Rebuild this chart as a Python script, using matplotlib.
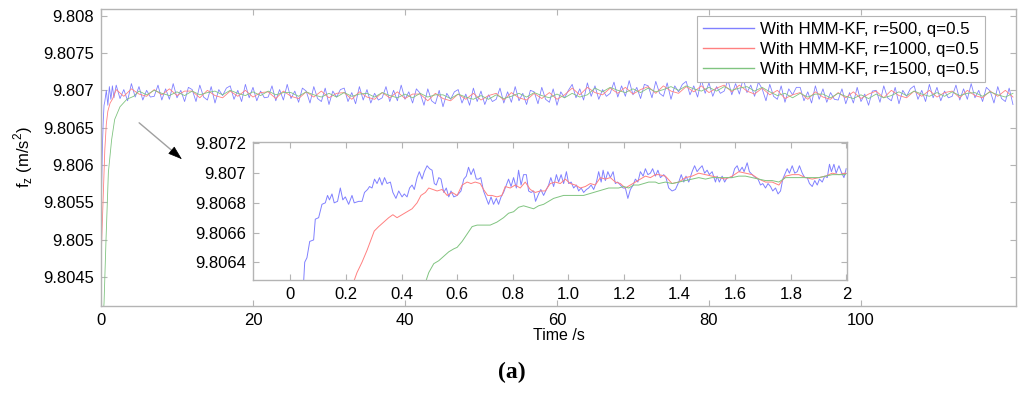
import numpy as np
import matplotlib
matplotlib.use("Agg")
import matplotlib.pyplot as plt

plt.rcParams['font.family'] = ['Liberation Sans', 'DejaVu Sans']

# ---------------- data: main plot ----------------
labels = ["With HMM-KF, r=500, q=0.5", "With HMM-KF, r=1000, q=0.5", "With HMM-KF, r=1500, q=0.5"]
colors = ["#8080ff", "#ff8080", "#80c480"]

# start-up transients (main axes)
blue_t0 = [0.0, 0.1, 0.2, 0.3, 0.4, 0.5, 0.7, 0.9, 1.1, 1.3, 1.5, 1.7]
blue_v0 = [9.8050, 9.8058, 9.8063, 9.8066, 9.80680, 9.80685, 9.80700, 9.80680, 9.80705, 9.80688, 9.80706, 9.80690]
red_t0 = [0.0, 0.3, 0.5, 0.7, 0.9, 1.2, 1.5]
red_v0 = [9.8047, 9.8056, 9.8062, 9.80655, 9.80672, 9.80683, 9.80688]
green_t0 = [0.3, 0.4, 0.66, 0.97, 1.4, 1.8, 2.5, 3.4, 4.3]
green_v0 = [9.8040, 9.80415, 9.8050, 9.8059, 9.80634, 9.80661, 9.80678, 9.80688, 9.80692]

# steady part: blue every 0.5 s from 2 s, red every 1 s from 2 s, green every 1 s from 5 s
blue_t = np.arange(2.0, 120.01, 0.5)
blue_v = [
 9.80707, 9.80689, 9.80701, 9.80686, 9.80709, 9.80691, 9.80705, 9.80687, 9.80700, 9.80691,
 9.80692, 9.80707, 9.80687, 9.80702, 9.80688, 9.80709, 9.80690, 9.80700, 9.80685, 9.80704,
 9.80701, 9.80685, 9.80707, 9.80691, 9.80687, 9.80705, 9.80683, 9.80701, 9.80693, 9.80703,
 9.80706, 9.80688, 9.80700, 9.80685, 9.80708, 9.80690, 9.80704, 9.80686, 9.80699, 9.80690,
 9.80691, 9.80706, 9.80686, 9.80701, 9.80687, 9.80708, 9.80689, 9.80699, 9.80684, 9.80703,
 9.80699, 9.80683, 9.80705, 9.80689, 9.80685, 9.80703, 9.80681, 9.80699, 9.80691, 9.80701,
 9.80703, 9.80685, 9.80697, 9.80682, 9.80705, 9.80687, 9.80701, 9.80683, 9.80696, 9.80687,
 9.80690, 9.80705, 9.80685, 9.80700, 9.80686, 9.80707, 9.80688, 9.80698, 9.80683, 9.80702,
 9.80696, 9.80680, 9.80702, 9.80686, 9.80682, 9.80700, 9.80678, 9.80696, 9.80688, 9.80698,
 9.80701, 9.80683, 9.80695, 9.80680, 9.80703, 9.80685, 9.80699, 9.80681, 9.80694, 9.80685,
 9.80688, 9.80703, 9.80683, 9.80698, 9.80684, 9.80705, 9.80686, 9.80696, 9.80681, 9.80700,
 9.80698, 9.80682, 9.80704, 9.80688, 9.80684, 9.80702, 9.80680, 9.80698, 9.80690, 9.80700,
 9.80708, 9.80690, 9.80702, 9.80687, 9.80710, 9.80692, 9.80706, 9.80688, 9.80701, 9.80692,
 9.80696, 9.80711, 9.80691, 9.80706, 9.80692, 9.80713, 9.80694, 9.80704, 9.80689, 9.80708,
 9.80706, 9.80690, 9.80712, 9.80696, 9.80692, 9.80710, 9.80688, 9.80706, 9.80698, 9.80708,
 9.80712, 9.80694, 9.80706, 9.80691, 9.80714, 9.80696, 9.80710, 9.80692, 9.80705, 9.80696,
 9.80699, 9.80714, 9.80694, 9.80709, 9.80695, 9.80716, 9.80697, 9.80707, 9.80692, 9.80711,
 9.80702, 9.80686, 9.80708, 9.80692, 9.80688, 9.80706, 9.80684, 9.80702, 9.80694, 9.80704,
 9.80704, 9.80686, 9.80698, 9.80683, 9.80706, 9.80688, 9.80702, 9.80684, 9.80697, 9.80688,
 9.80687, 9.80702, 9.80682, 9.80697, 9.80683, 9.80704, 9.80685, 9.80695, 9.80680, 9.80699,
 9.80700, 9.80684, 9.80706, 9.80690, 9.80686, 9.80704, 9.80682, 9.80700, 9.80692, 9.80702,
 9.80706, 9.80688, 9.80700, 9.80685, 9.80708, 9.80690, 9.80704, 9.80686, 9.80699, 9.80690,
 9.80692, 9.80707, 9.80687, 9.80702, 9.80688, 9.80709, 9.80690, 9.80700, 9.80685, 9.80704,
 9.80699, 9.80683, 9.80705, 9.80689, 9.80685, 9.80703, 9.80681]
red_t = np.arange(2.0, 120.01, 1.0)
red_v = [
 9.80701, 9.80692, 9.80702, 9.80695, 9.80692, 9.80701, 9.80694, 9.80702, 9.80693, 9.80699,
 9.80699, 9.80690, 9.80700, 9.80693, 9.80690, 9.80699, 9.80692, 9.80700, 9.80691, 9.80697,
 9.80698, 9.80689, 9.80699, 9.80692, 9.80689, 9.80698, 9.80691, 9.80699, 9.80690, 9.80696,
 9.80697, 9.80688, 9.80698, 9.80691, 9.80688, 9.80697, 9.80690, 9.80698, 9.80689, 9.80695,
 9.80695, 9.80686, 9.80696, 9.80689, 9.80686, 9.80695, 9.80688, 9.80696, 9.80687, 9.80693,
 9.80696, 9.80687, 9.80697, 9.80690, 9.80687, 9.80696, 9.80689, 9.80697, 9.80688, 9.80694,
 9.80703, 9.80694, 9.80704, 9.80697, 9.80694, 9.80703, 9.80696, 9.80704, 9.80695, 9.80701,
 9.80705, 9.80696, 9.80706, 9.80699, 9.80696, 9.80705, 9.80698, 9.80706, 9.80697, 9.80703,
 9.80707, 9.80698, 9.80707, 9.80699, 9.80695, 9.80703, 9.80694, 9.80700, 9.80689, 9.80694,
 9.80697, 9.80688, 9.80698, 9.80691, 9.80688, 9.80697, 9.80690, 9.80698, 9.80689, 9.80695,
 9.80699, 9.80690, 9.80700, 9.80693, 9.80690, 9.80699, 9.80692, 9.80700, 9.80691, 9.80697,
 9.80699, 9.80690, 9.80700, 9.80693, 9.80690, 9.80699, 9.80692, 9.80700, 9.80691]
green_t = np.arange(5.0, 120.01, 1.0)
green_v = [
 9.80699, 9.80694, 9.80700, 9.80696, 9.80693, 9.80698, 9.80693, 9.80699, 9.80694, 9.80697,
 9.80699, 9.80694, 9.80700, 9.80696, 9.80693, 9.80698, 9.80693, 9.80699, 9.80694, 9.80697,
 9.80697, 9.80692, 9.80698, 9.80694, 9.80691, 9.80696, 9.80691, 9.80697, 9.80692, 9.80695,
 9.80696, 9.80691, 9.80697, 9.80693, 9.80690, 9.80695, 9.80690, 9.80696, 9.80691, 9.80694,
 9.80694, 9.80689, 9.80695, 9.80691, 9.80688, 9.80693, 9.80688, 9.80694, 9.80689, 9.80692,
 9.80696, 9.80691, 9.80697, 9.80693, 9.80690, 9.80695, 9.80690, 9.80696, 9.80691, 9.80694,
 9.80703, 9.80698, 9.80704, 9.80700, 9.80697, 9.80702, 9.80697, 9.80703, 9.80698, 9.80701,
 9.80705, 9.80700, 9.80706, 9.80702, 9.80699, 9.80704, 9.80699, 9.80705, 9.80700, 9.80703,
 9.80705, 9.80699, 9.80704, 9.80698, 9.80693, 9.80696, 9.80690, 9.80696, 9.80691, 9.80695,
 9.80695, 9.80690, 9.80696, 9.80692, 9.80689, 9.80694, 9.80689, 9.80695, 9.80690, 9.80693,
 9.80698, 9.80693, 9.80699, 9.80695, 9.80692, 9.80697, 9.80692, 9.80698, 9.80693, 9.80696,
 9.80697, 9.80692, 9.80698, 9.80694, 9.80691, 9.80696]

# ---------------- data: inset (0-2 s) ----------------
ib_t = [0.046, 0.052, 0.060, 0.070, 0.084, 0.090, 0.102, 0.114, 0.126, 0.134, 0.141, 0.150, 0.158, 0.170,
        0.180, 0.189, 0.198, 0.210, 0.222, 0.230, 0.246, 0.258, 0.267, 0.278, 0.285, 0.294, 0.303, 0.312,
        0.321, 0.330, 0.339, 0.348, 0.360, 0.369, 0.380, 0.390, 0.402, 0.410, 0.420, 0.429, 0.438, 0.446,
        0.456, 0.464, 0.474, 0.482, 0.492, 0.501, 0.510, 0.518, 0.525, 0.534, 0.542, 0.552, 0.561, 0.570,
        0.578, 0.588, 0.600, 0.614, 0.624, 0.633, 0.641, 0.650, 0.659, 0.669, 0.677, 0.685, 0.695, 0.705,
        0.713, 0.722, 0.731, 0.741, 0.749, 0.758, 0.767, 0.777, 0.785, 0.794, 0.803, 0.813, 0.821, 0.830,
        0.839, 0.849, 0.857, 0.866, 0.875, 0.882, 0.893, 0.901, 0.911, 0.921, 0.929, 0.937, 0.947, 0.957,
        0.965, 0.974, 0.983, 0.993, 1.001, 1.010, 1.019, 1.029, 1.037, 1.046, 1.055, 1.065, 1.073, 1.082,
        1.091, 1.101, 1.109, 1.118, 1.125, 1.133, 1.142, 1.151, 1.161, 1.169, 1.177, 1.187, 1.197, 1.205,
        1.214, 1.223, 1.233, 1.241, 1.250, 1.259, 1.269, 1.277, 1.286, 1.295, 1.303, 1.313, 1.322, 1.331,
        1.343, 1.351, 1.361, 1.373, 1.385, 1.397, 1.406, 1.415, 1.423, 1.433, 1.445, 1.454, 1.463, 1.471,
        1.481, 1.490, 1.499, 1.507, 1.517, 1.529, 1.535, 1.543, 1.553, 1.562, 1.571, 1.579, 1.589, 1.598,
        1.607, 1.615, 1.625, 1.632, 1.643, 1.651, 1.661, 1.673, 1.682, 1.691, 1.699, 1.709, 1.718, 1.727,
        1.735, 1.745, 1.754, 1.763, 1.771, 1.778, 1.787, 1.795, 1.805, 1.814, 1.823, 1.831, 1.841, 1.850,
        1.859, 1.867, 1.877, 1.886, 1.895, 1.903, 1.913, 1.922, 1.931, 1.939, 1.946, 1.955, 1.963, 1.973,
        1.981, 1.991, 1.999]
ib_v = [9.80620, 9.80640, 9.80643, 9.80654, 9.80655, 9.80669, 9.80670, 9.80679, 9.80680, 9.80685, 9.80682, 9.80686, 9.80680, 9.80681,
        9.80690, 9.80682, 9.80684, 9.80679, 9.80685, 9.80680, 9.80681, 9.80681, 9.80687, 9.80689, 9.80691, 9.80690, 9.80696, 9.80693,
        9.80697, 9.80692, 9.80697, 9.80693, 9.80694, 9.80687, 9.80683, 9.80688, 9.80684, 9.80686, 9.80684, 9.80690, 9.80692, 9.80689,
        9.80697, 9.80701, 9.80696, 9.80701, 9.80705, 9.80703, 9.80702, 9.80693, 9.80692, 9.80697, 9.80696, 9.80687, 9.80690, 9.80684,
        9.80688, 9.80684, 9.80685, 9.80688, 9.80696, 9.80698, 9.80704, 9.80699, 9.80703, 9.80696, 9.80696, 9.80697, 9.80688, 9.80683,
        9.80679, 9.80684, 9.80679, 9.80683, 9.80679, 9.80684, 9.80687, 9.80692, 9.80696, 9.80691, 9.80697, 9.80690, 9.80702, 9.80692,
        9.80699, 9.80699, 9.80688, 9.80687, 9.80688, 9.80681, 9.80686, 9.80689, 9.80685, 9.80689, 9.80692, 9.80697, 9.80691, 9.80699,
        9.80694, 9.80699, 9.80693, 9.80701, 9.80693, 9.80694, 9.80690, 9.80692, 9.80688, 9.80690, 9.80687, 9.80689, 9.80690, 9.80692,
        9.80689, 9.80694, 9.80701, 9.80694, 9.80702, 9.80695, 9.80701, 9.80697, 9.80701, 9.80693, 9.80694, 9.80692, 9.80690, 9.80690,
        9.80683, 9.80689, 9.80692, 9.80696, 9.80694, 9.80701, 9.80698, 9.80703, 9.80699, 9.80700, 9.80703, 9.80698, 9.80702, 9.80697,
        9.80699, 9.80697, 9.80690, 9.80688, 9.80689, 9.80694, 9.80699, 9.80694, 9.80698, 9.80694, 9.80701, 9.80705, 9.80701, 9.80703,
        9.80705, 9.80700, 9.80702, 9.80699, 9.80701, 9.80694, 9.80698, 9.80694, 9.80698, 9.80694, 9.80697, 9.80697, 9.80697, 9.80703,
        9.80705, 9.80701, 9.80704, 9.80701, 9.80707, 9.80701, 9.80699, 9.80697, 9.80696, 9.80692, 9.80693, 9.80690, 9.80693, 9.80691,
        9.80688, 9.80690, 9.80686, 9.80688, 9.80696, 9.80699, 9.80703, 9.80700, 9.80705, 9.80700, 9.80701, 9.80705, 9.80700, 9.80697,
        9.80697, 9.80693, 9.80691, 9.80695, 9.80692, 9.80696, 9.80694, 9.80698, 9.80697, 9.80706, 9.80701, 9.80706, 9.80700, 9.80705,
        9.80701, 9.80697, 9.80703]

ir_t = [0.215, 0.240, 0.258, 0.276, 0.288, 0.302, 0.318, 0.336, 0.354, 0.369, 0.384, 0.402, 0.420, 0.438,
        0.456, 0.470, 0.486, 0.498, 0.513, 0.528, 0.546, 0.564, 0.582, 0.600, 0.618, 0.636, 0.650, 0.665,
        0.683, 0.695, 0.710, 0.725, 0.743, 0.761, 0.773, 0.791, 0.809, 0.827, 0.845, 0.863, 0.881, 0.899,
        0.917, 0.935, 0.953, 0.971, 0.989, 1.007, 1.025, 1.043, 1.061, 1.079, 1.097, 1.115, 1.133, 1.151,
        1.169, 1.187, 1.205, 1.223, 1.241, 1.259, 1.277, 1.295, 1.313, 1.325, 1.349, 1.373, 1.397, 1.421,
        1.445, 1.469, 1.493, 1.517, 1.541, 1.565, 1.589, 1.613, 1.637, 1.661, 1.685, 1.709, 1.733, 1.757,
        1.781, 1.805, 1.829, 1.853, 1.877, 1.901, 1.925, 1.949, 1.973, 1.997]
ir_v = [9.80620, 9.80633, 9.80640, 9.80648, 9.80654, 9.80661, 9.80664, 9.80667, 9.80670, 9.80672, 9.80670, 9.80672, 9.80674, 9.80676,
        9.80680, 9.80685, 9.80687, 9.80690, 9.80689, 9.80688, 9.80689, 9.80685, 9.80687, 9.80685, 9.80692, 9.80694, 9.80693, 9.80694,
        9.80693, 9.80689, 9.80685, 9.80685, 9.80684, 9.80685, 9.80691, 9.80690, 9.80692, 9.80690, 9.80694, 9.80689, 9.80687, 9.80688,
        9.80688, 9.80693, 9.80694, 9.80693, 9.80696, 9.80693, 9.80692, 9.80690, 9.80691, 9.80693, 9.80692, 9.80697, 9.80696, 9.80697,
        9.80694, 9.80693, 9.80690, 9.80692, 9.80694, 9.80696, 9.80698, 9.80697, 9.80699, 9.80699, 9.80698, 9.80693, 9.80694, 9.80697,
        9.80698, 9.80700, 9.80699, 9.80698, 9.80697, 9.80696, 9.80698, 9.80701, 9.80700, 9.80699, 9.80696, 9.80694, 9.80694, 9.80692,
        9.80698, 9.80699, 9.80699, 9.80697, 9.80696, 9.80697, 9.80698, 9.80700, 9.80699, 9.80700]

ig_t = [0.475, 0.498, 0.516, 0.534, 0.552, 0.570, 0.588, 0.600, 0.618, 0.636, 0.654, 0.672, 0.695, 0.719,
        0.743, 0.767, 0.785, 0.803, 0.821, 0.839, 0.857, 0.875, 0.893, 0.911, 0.929, 0.947, 0.965, 0.983,
        1.001, 1.019, 1.037, 1.055, 1.073, 1.091, 1.109, 1.127, 1.145, 1.163, 1.181, 1.199, 1.217, 1.235,
        1.253, 1.271, 1.289, 1.313, 1.325, 1.349, 1.373, 1.397, 1.421, 1.445, 1.469, 1.493, 1.517, 1.541,
        1.565, 1.589, 1.613, 1.637, 1.661, 1.685, 1.709, 1.733, 1.757, 1.781, 1.805, 1.829, 1.853, 1.877,
        1.901, 1.925, 1.949, 1.973, 1.997]
ig_v = [9.80620, 9.80633, 9.80639, 9.80641, 9.80644, 9.80647, 9.80649, 9.80650, 9.80654, 9.80659, 9.80664, 9.80665, 9.80665, 9.80665,
        9.80667, 9.80670, 9.80673, 9.80674, 9.80677, 9.80678, 9.80677, 9.80676, 9.80678, 9.80679, 9.80681, 9.80683, 9.80684, 9.80685,
        9.80685, 9.80685, 9.80685, 9.80685, 9.80686, 9.80687, 9.80688, 9.80689, 9.80690, 9.80690, 9.80690, 9.80691, 9.80690, 9.80692,
        9.80692, 9.80693, 9.80694, 9.80694, 9.80693, 9.80694, 9.80693, 9.80694, 9.80695, 9.80696, 9.80697, 9.80696, 9.80697, 9.80697,
        9.80697, 9.80697, 9.80698, 9.80698, 9.80697, 9.80696, 9.80695, 9.80695, 9.80694, 9.80697, 9.80697, 9.80697, 9.80697, 9.80697,
        9.80697, 9.80698, 9.80699, 9.80699, 9.80699]

main_yticks = [9.8045, 9.805, 9.8055, 9.806, 9.8065, 9.807, 9.8075, 9.808]
main_yticklabels = ["9.8045", "9.805", "9.8055", "9.806", "9.8065", "9.807", "9.8075", "9.808"]
main_xticks = [0, 20, 40, 60, 80, 100]
inset_yticks = [9.8064, 9.8066, 9.8068, 9.807, 9.8072]
inset_yticklabels = ["9.8064", "9.8066", "9.8068", "9.807", "9.8072"]
inset_xticks = [0, 0.2, 0.4, 0.6, 0.8, 1.0, 1.2, 1.4, 1.6, 1.8, 2.0]
inset_xticklabels = ["0", "0.2", "0.4", "0.6", "0.8", "1.0", "1.2", "1.4", "1.6", "1.8", "2"]

# ---------------- figure ----------------
W, H = 1024, 394
fig = plt.figure(figsize=(W / 100, H / 100), dpi=100)
spine_c = "#b4b4b4"
fs = 12

def style(ax):
    for s in ax.spines.values():
        s.set_color(spine_c)
        s.set_linewidth(1.0)
    ax.tick_params(direction="in", top=True, right=True, color=spine_c,
                   length=4, width=0.8, labelsize=fs, labelcolor="black", pad=5)

ax = fig.add_axes([101 / W, 1 - 306 / H, (1016 - 101) / W, (306 - 9) / H])
series = [
    (np.concatenate([blue_t0, blue_t]), np.concatenate([blue_v0, blue_v])),
    (np.concatenate([red_t0, red_t]), np.concatenate([red_v0, red_v])),
    (np.concatenate([green_t0, green_t]), np.concatenate([green_v0, green_v])),
]
for (t, v), c, lab in zip(series, colors, labels):
    ax.plot(t, v, color=c, lw=0.6, label=lab)
ax.set_xlim(0, 120.4)
ax.set_ylim(9.80411, 9.80809)
ax.set_xticks(main_xticks)
ax.set_xticklabels([str(x) for x in main_xticks])
ax.set_yticks(main_yticks)
ax.set_yticklabels(main_yticklabels)
style(ax)
ax.set_xlabel("Time /s", fontsize=11.5, labelpad=0)
ax.set_ylabel(r"f$_\mathregular{z}$ (m/s$^\mathregular{2}$)", fontsize=fs, labelpad=6)

leg = ax.legend(loc="upper right", bbox_to_anchor=(0.966, 0.976), fontsize=12.2,
                frameon=True, fancybox=False, edgecolor=spine_c, framealpha=1,
                handlelength=3.0, handletextpad=0.35, labelspacing=0.28,
                borderpad=0.35, borderaxespad=0)
leg.get_frame().set_linewidth(0.8)
for h in leg.get_lines():
    h.set_linewidth(1.0)

# inset
axi = fig.add_axes([253 / W, 1 - 280 / H, (847 - 253) / W, (280 - 142) / H])
for t, v, c in [(ib_t, ib_v, colors[0]), (ir_t, ir_v, colors[1]), (ig_t, ig_v, colors[2])]:
    axi.plot(t, v, color=c, lw=0.7)
axi.set_xlim(-0.134, 2.002)
axi.set_ylim(9.80628, 9.80721)
axi.set_xticks(inset_xticks)
axi.set_xticklabels(inset_xticklabels)
axi.set_yticks(inset_yticks)
axi.set_yticklabels(inset_yticklabels)
style(axi)

# arrow
def fpx(x, y):
    return (x / W, 1 - y / H)

fig.add_artist(matplotlib.patches.FancyArrowPatch(
    fpx(137, 121), fpx(176, 154), transform=fig.transFigure,
    arrowstyle="-", color="#a0a0a0", lw=1.0))
fig.add_artist(matplotlib.patches.FancyArrowPatch(
    fpx(170, 149), fpx(184, 161), transform=fig.transFigure,
    arrowstyle="-|>,head_length=9,head_width=3", color="black", lw=0.5,
    mutation_scale=1))

fig.text(512 / W, 1 - 372 / H, "(a)", ha="center", va="center",
         fontsize=17, fontweight="bold", family=["Liberation Serif", "DejaVu Serif"])

fig.savefig("out.png", dpi=100)
